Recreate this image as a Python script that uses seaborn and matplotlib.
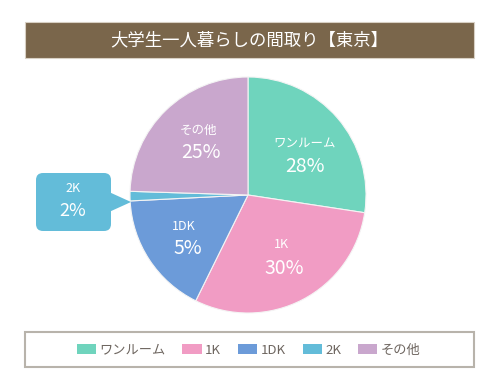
import matplotlib
matplotlib.use("Agg")
import matplotlib.pyplot as plt
import seaborn as sns
from matplotlib.patches import FancyBboxPatch, Rectangle, Polygon, Patch

# data
categories = ["ワンルーム", "1K", "1DK", "2K", "その他"]
shown_pct = [28, 30, 5, 2, 25]            # percentages written on the chart
slice_sizes = [27.4, 29.9, 16.9, 1.3, 24.5]  # slice sizes as drawn
colors = ["#6fd4bd", "#f19cc4", "#6c9bd9", "#63bcd9", "#c9a7cd"]
title = "大学生一人暮らしの間取り【東京】"

sns.set_theme(style="white")
plt.rcParams["font.family"] = ["Noto Sans CJK JP", "DejaVu Sans"]

W, H = 500, 390
fig = plt.figure(figsize=(W / 100, H / 100), dpi=100)
fig.patch.set_facecolor("white")

# overlay axes in pixel coords
bg = fig.add_axes([0, 0, 1, 1])
bg.set_xlim(0, W)
bg.set_ylim(H, 0)
bg.axis("off")

# title bar
bg.add_patch(Rectangle((25, 22), 449, 36, facecolor="#7a664b", edgecolor="#d8d0c4", lw=0.8))
bg.text(249, 40, title, color="white", fontsize=12.5, ha="center", va="center")

# legend frame
bg.add_patch(Rectangle((25, 332), 449, 35, facecolor="none", edgecolor="#b8b3ab", lw=1.5))

# callout for 2K
bg.add_patch(FancyBboxPatch((36, 173), 75, 58, boxstyle="round,pad=0,rounding_size=7",
                            facecolor=colors[3], edgecolor="none"))
bg.add_patch(Polygon([(109, 192), (131, 202), (109, 212)], closed=True,
                     facecolor=colors[3], edgecolor="none"))
bg.text(73, 188, categories[3], color="white", fontsize=9, ha="center", va="center")
bg.text(73, 211, f"{shown_pct[3]}%", color="white", fontsize=13, ha="center", va="center")

# pie
cx, cy, r = 248, 195, 118
ax = fig.add_axes([(cx - r) / W, (H - cy - r) / H, 2 * r / W, 2 * r / H])
ax.pie(slice_sizes, colors=colors, startangle=90, counterclock=False,
       wedgeprops=dict(edgecolor="#f4f4f4", linewidth=0.8))
ax.set_xlim(-1, 1)
ax.set_ylim(-1, 1)
ax.axis("off")

# slice labels (pixel positions)
label_pos = {"ワンルーム": (305, 144, 305, 166),
             "1K": (281, 245, 284, 268),
             "1DK": (184, 227, 188, 249),
             "その他": (198, 130, 201, 152)}
for name, pct in zip(categories, shown_pct):
    if name not in label_pos:
        continue
    x1, y1, x2, y2 = label_pos[name]
    bg.text(x1, y1, name, color="white", fontsize=9, ha="center", va="center", zorder=5)
    bg.text(x2, y2, f"{pct}%", color="white", fontsize=14, ha="center", va="center", zorder=5)
bg.set_zorder(3)
bg.patch.set_alpha(0)

# legend
handles = [Patch(facecolor=c, edgecolor="none") for c in colors]
fig.legend(handles, categories, loc="center", bbox_to_anchor=(0.497, 1 - 350 / H),
           ncol=5, frameon=False, fontsize=9.5, handlelength=1.45, handleheight=0.75,
           handletextpad=0.25, columnspacing=1.3, labelcolor="#6e6660")

fig.savefig("out.png", dpi=100)
